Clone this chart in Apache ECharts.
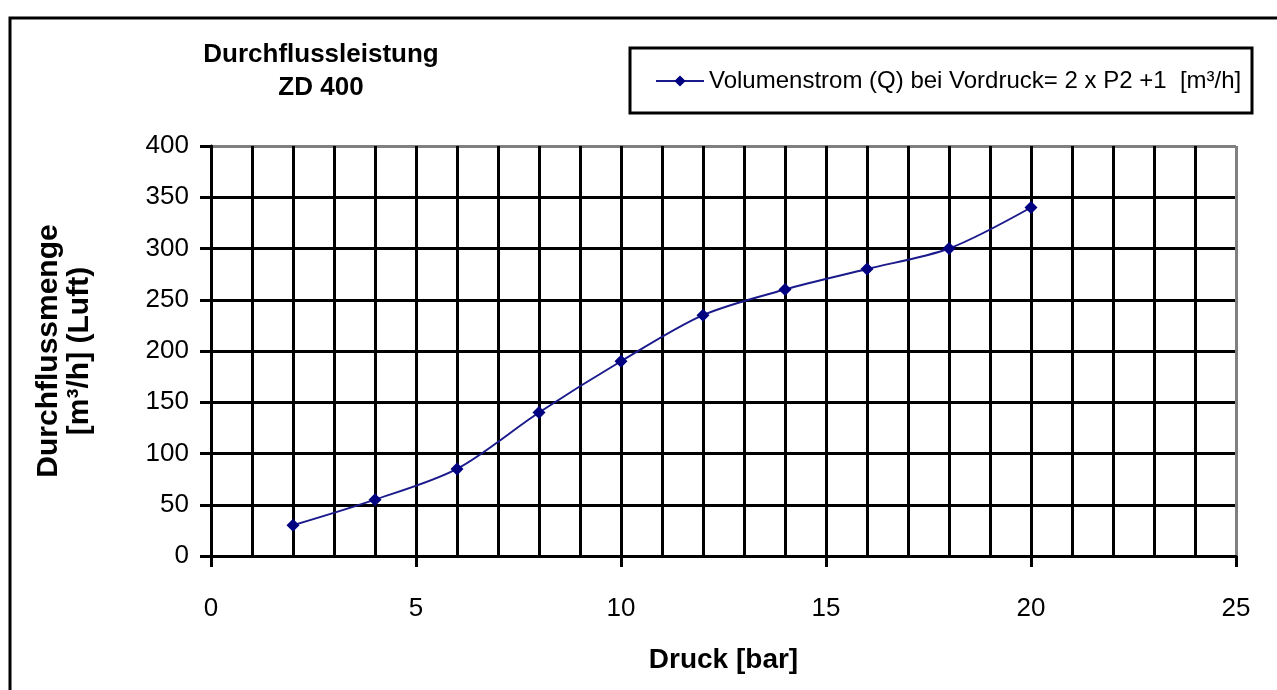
<!DOCTYPE html>
<html>
<head>
<meta charset="utf-8">
<script src="https://cdn.jsdelivr.net/npm/echarts@6/dist/echarts.min.js"></script>
<style>
  html, body { margin: 0; padding: 0; background: #fff; }
  #chartImg { width: 1277px; height: 690px; }
</style>
</head>
<body>
<div id="chartImg"></div>
<script>
// data
var druck = [2, 4, 6, 8, 10, 12, 14, 16, 18, 20];
var volumenstrom = [30, 55, 85, 140, 190, 235, 260, 280, 300, 340];
var seriesName = 'Volumenstrom (Q) bei Vordruck= 2 x P2 +1  [m³/h]';

var points = druck.map(function (d, i) { return [d, volumenstrom[i]]; });

var font = '"Liberation Sans", Arial, sans-serif';
var myChart = echarts.init(document.getElementById('chartImg'));
var option = {
    animation: false,
    backgroundColor: '#fff',
    title: {
        text: 'Durchflussleistung\nZD 400',
        left: 316,
        top: 33,
        textAlign: 'center',
        textStyle: {
            fontFamily: font,
            fontSize: 26,
            fontWeight: 'bold',
            color: '#000',
            lineHeight: 33
        }
    },
    legend: {
        show: true,
        left: 650,
        top: 64,
        itemWidth: 48,
        itemHeight: 14,
        itemGap: 0,
        textStyle: { fontFamily: font, fontSize: 24, color: '#000' },
        data: [seriesName]
    },
    graphic: [
        {
            type: 'rect',
            shape: { x: 10, y: 18, width: 1300, height: 720 },
            style: { fill: null, stroke: '#000', lineWidth: 3 },
            silent: true
        },
        {
            type: 'rect',
            shape: { x: 630, y: 48, width: 622, height: 65 },
            style: { fill: null, stroke: '#000', lineWidth: 3 },
            silent: true
        }
    ],
    grid: {
        left: 211,
        right: 41,
        top: 146,
        bottom: 134
    },
    xAxis: {
        type: 'value',
        min: 0,
        max: 25,
        interval: 5,
        name: 'Druck [bar]',
        nameLocation: 'middle',
        nameGap: 90,
        nameTextStyle: { fontFamily: font, fontSize: 28, fontWeight: 'bold', color: '#000' },
        axisLine: { show: true, lineStyle: { color: '#000', width: 3 } },
        axisTick: { show: true, length: 11, lineStyle: { color: '#000', width: 3 } },
        axisLabel: { margin: 40, fontFamily: font, fontSize: 26, color: '#000' },
        splitLine: { show: true, lineStyle: { color: ['#000', '#000', '#000', '#000', '#000', '#808080'], width: 3 } },
        minorTick: { show: false, splitNumber: 5 },
        minorSplitLine: { show: true, lineStyle: { color: '#000', width: 3 } }
    },
    yAxis: {
        type: 'value',
        min: 0,
        max: 400,
        interval: 50,
        name: 'Durchflussmenge\n[m³/h] (Luft)',
        nameLocation: 'middle',
        nameRotate: 90,
        nameGap: 116,
        nameTextStyle: { fontFamily: font, fontSize: 30, fontWeight: 'bold', color: '#000', lineHeight: 31 },
        axisLine: { show: true, lineStyle: { color: '#000', width: 3 } },
        axisTick: { show: true, length: 11, lineStyle: { color: '#000', width: 3 } },
        axisLabel: { margin: 22, fontFamily: font, fontSize: 26, color: '#000' },
        splitLine: { show: true, lineStyle: { color: ['#000', '#000', '#000', '#000', '#000', '#000', '#000', '#000', '#808080'], width: 3 } }
    },
    series: [
        {
            name: seriesName,
            type: 'line',
            smooth: 0.3,
            symbol: 'diamond',
            symbolSize: 13,
            data: points,
            lineStyle: { color: '#1a1a8c', width: 2 },
            itemStyle: { color: '#000080' }
        }
    ]
};
myChart.setOption(option);
</script>
</body>
</html>
